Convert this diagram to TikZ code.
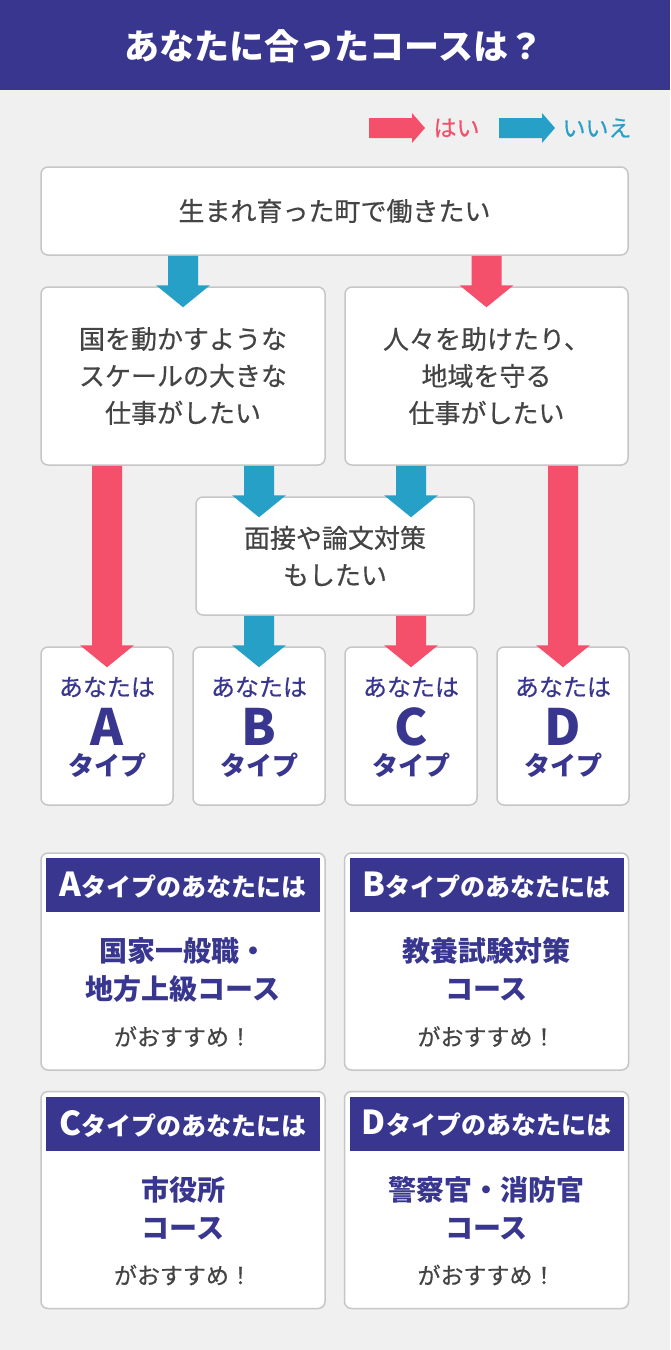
\documentclass[tikz,border=0pt]{standalone}
\usepackage{fontspec}
\setmainfont{Noto Sans CJK JP}
\newfontfamily\jpmedium{Noto Sans CJK JP}[FakeBold=0.5]
\usetikzlibrary{calc}

\definecolor{navy}{HTML}{38368F}
\definecolor{yespink}{HTML}{F5506B}
\definecolor{noblue}{HTML}{27A0C8}
\definecolor{textgray}{HTML}{444444}
\definecolor{boxline}{HTML}{C6C6C6}
\definecolor{backgray}{HTML}{F0F0F0}

\tikzset{
  qbox/.style={draw=boxline, line width=1.5pt, fill=white, rounded corners=7pt, align=center,
    text=textgray, font=\jpmedium\fontsize{26}{37}\selectfont, inner sep=0pt},
  typebox/.style={qbox, minimum width=132pt, minimum height=158pt},
  resbox/.style={qbox, minimum width=284pt, minimum height=217pt},
  reshead/.style={fill=navy, minimum width=274pt, minimum height=54pt, inner sep=0pt, text=white,
    font=\bfseries\fontsize{25}{25}\selectfont},
  course/.style={align=center, text=navy, inner sep=0pt, font=\bfseries\fontsize{28}{38}\selectfont},
  recommend/.style={text=textgray, inner sep=0pt, font=\jpmedium\fontsize{23}{23}\selectfont},
  yourtype/.style={text=navy, inner sep=0pt, font=\jpmedium\fontsize{24}{24}\selectfont},
  typeletter/.style={text=navy, inner sep=0pt, font=\bfseries\fontsize{50}{50}\selectfont},
  typeword/.style={text=navy, inner sep=0pt, font=\bfseries\fontsize{26}{26}\selectfont},
}

% block arrow from a start point straight down to a tip
\newcommand{\flowarrow}[3]{%
  \fill[#1] let \p1=(#2), \p2=(#3) in
    (\x1-15pt,\y1) -- (\x1+15pt,\y1) -- (\x1+15pt,\y2+22pt) -- (\x1+27pt,\y2+22pt)
    -- (\x1,\y2) -- (\x1-27pt,\y2+22pt) -- (\x1-15pt,\y2+22pt) -- cycle;}

% small arrow of the legend, pointing right
\newcommand{\legendarrow}[2]{%
  \fill[#1] let \p1=(#2) in
    (\x1,\y1+10pt) -- (\x1+43pt,\y1+10pt) -- (\x1+43pt,\y1+15pt) -- (\x1+56pt,\y1)
    -- (\x1+43pt,\y1-15pt) -- (\x1+43pt,\y1-10pt) -- (\x1,\y1-10pt) -- cycle;}

\begin{document}
\begin{tikzpicture}[x=1pt,y=-1pt]
    \useasboundingbox (0,0) rectangle (670,1350);
    \fill[backgray] (0,0) rectangle (670,1350);
    \fill[navy] (0,0) rectangle (670,90);
    \node[text=white, font=\bfseries\fontsize{35}{35}\selectfont] (title) at (334,46) {あなたに合ったコースは？};

    % legend
    \coordinate (yeskey) at (369,128);
    \coordinate (nokey) at (499,128);
    \legendarrow{yespink}{yeskey}
    \legendarrow{noblue}{nokey}
    \node[text=yespink, anchor=west, font=\jpmedium\fontsize{23}{23}\selectfont] (yeslabel) at (430,128) {はい};
    \node[text=noblue, anchor=west, font=\jpmedium\fontsize{23}{23}\selectfont] (nolabel) at (559,128) {いいえ};

    % questions
    \node[qbox, minimum width=587pt, minimum height=88pt] (home) at (334.5,211) {生まれ育った町で働きたい};
    \node[qbox, minimum width=284pt, minimum height=178pt] (nation) at (183,376) {国を動かすような\\スケールの大きな\\仕事がしたい};
    \node[qbox, minimum width=283pt, minimum height=178pt] (local) at (486.5,376) {人々を助けたり、\\地域を守る\\仕事がしたい};
    \node[qbox, minimum width=278pt, minimum height=118pt] (exam) at (335,556) {面接や論文対策\\もしたい};

    % types
    \node[typebox] (typeA) at (107,726) {};
    \node[typebox] (typeB) at (259,726) {};
    \node[typebox] (typeC) at (411,726) {};
    \node[typebox] (typeD) at (563,726) {};
    \node[yourtype] (youA) at ([yshift=39pt]typeA.center) {あなたは};
    \node[yourtype] (youB) at ([yshift=39pt]typeB.center) {あなたは};
    \node[yourtype] (youC) at ([yshift=39pt]typeC.center) {あなたは};
    \node[yourtype] (youD) at ([yshift=39pt]typeD.center) {あなたは};
    \node[typeletter] (letterA) at ([yshift=-1pt]typeA.center) {A};
    \node[typeletter] (letterB) at ([yshift=-1pt]typeB.center) {B};
    \node[typeletter] (letterC) at ([yshift=-1pt]typeC.center) {C};
    \node[typeletter] (letterD) at ([yshift=-1pt]typeD.center) {D};
    \node[typeword] (wordA) at ([yshift=-39pt]typeA.center) {タイプ};
    \node[typeword] (wordB) at ([yshift=-39pt]typeB.center) {タイプ};
    \node[typeword] (wordC) at ([yshift=-39pt]typeC.center) {タイプ};
    \node[typeword] (wordD) at ([yshift=-39pt]typeD.center) {タイプ};

    % arrows
    \flowarrow{noblue}{home.south -| nation.north}{[yshift=-21pt]nation.north}
    \flowarrow{yespink}{home.south -| local.north}{[yshift=-21pt]local.north}
    \flowarrow{yespink}{nation.south -| typeA.north}{[yshift=-21pt]typeA.north}
    \flowarrow{noblue}{nation.south -| typeB.north}{[yshift=-21pt]exam.north -| typeB.north}
    \flowarrow{noblue}{local.south -| typeC.north}{[yshift=-21pt]exam.north -| typeC.north}
    \flowarrow{yespink}{local.south -| typeD.north}{[yshift=-21pt]typeD.north}
    \flowarrow{noblue}{exam.south -| typeB.north}{[yshift=-21pt]typeB.north}
    \flowarrow{yespink}{exam.south -| typeC.north}{[yshift=-21pt]typeC.north}

    % results
    \node[resbox] (resA) at (183,961.5) {};
    \node[resbox] (resB) at (486.5,961.5) {};
    \node[resbox] (resC) at (183,1200) {};
    \node[resbox] (resD) at (486.5,1200) {};
    \node[reshead] (headA) at ([yshift=76.5pt]resA.center) {{\fontsize{33}{33}\selectfont A}タイプのあなたには};
    \node[reshead] (headB) at ([yshift=76.5pt]resB.center) {{\fontsize{33}{33}\selectfont B}タイプのあなたには};
    \node[reshead] (headC) at ([yshift=76.5pt]resC.center) {{\fontsize{33}{33}\selectfont C}タイプのあなたには};
    \node[reshead] (headD) at ([yshift=76.5pt]resD.center) {{\fontsize{33}{33}\selectfont D}タイプのあなたには};
    \node[course] (courseA) at ([yshift=-8pt]resA.center) {国家一般職・\\地方上級コース};
    \node[course] (courseB) at ([yshift=-8pt]resB.center) {教養試験対策\\コース};
    \node[course] (courseC) at ([yshift=-8pt]resC.center) {市役所\\コース};
    \node[course] (courseD) at ([yshift=-8pt]resD.center) {警察官・消防官\\コース};
    \node[recommend] (recA) at ([yshift=-75pt]resA.center) {がおすすめ！};
    \node[recommend] (recB) at ([yshift=-75pt]resB.center) {がおすすめ！};
    \node[recommend] (recC) at ([yshift=-75pt]resC.center) {がおすすめ！};
    \node[recommend] (recD) at ([yshift=-75pt]resD.center) {がおすすめ！};
\end{tikzpicture}
\end{document}
